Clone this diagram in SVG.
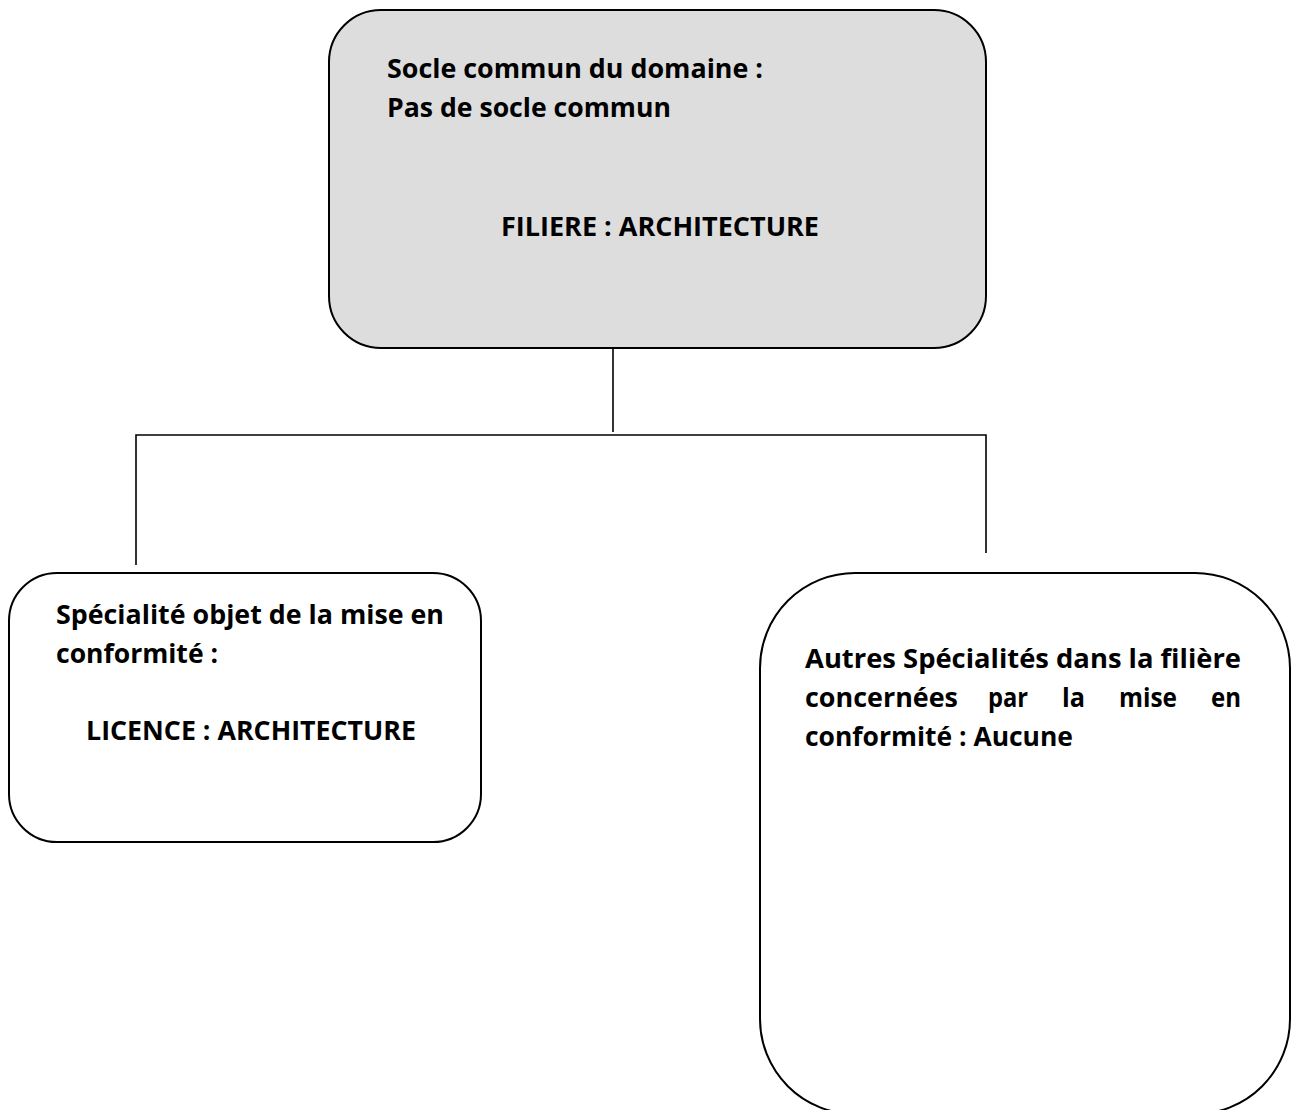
<svg xmlns="http://www.w3.org/2000/svg" width="1293" height="1110" viewBox="0 0 1293 1110">
<style>
.box{stroke:#000;stroke-width:2;}
.t{font-family:"Open Sans",Lato,"Liberation Sans",sans-serif;font-weight:bold;font-size:27.5px;fill:#000;}
.c{stroke:#000;stroke-width:1.6;fill:none;}
</style>
<rect width="1293" height="1110" fill="#fff"/>
<g id="connectors">
<line class="c" x1="613" y1="348" x2="613" y2="432"/>
<polyline class="c" points="136,565 136,435 986,435 986,553"/>
</g>
<g id="node-filiere">
<rect class="box" x="329" y="10" width="657" height="338" rx="52" ry="52" fill="#dddddd"/>
<text class="t" x="387" y="78" textLength="376" lengthAdjust="spacingAndGlyphs">Socle commun du domaine :</text>
<text class="t" x="387" y="117" textLength="284" lengthAdjust="spacingAndGlyphs">Pas de socle commun</text>
<text class="t" x="501" y="236" textLength="318" lengthAdjust="spacingAndGlyphs">FILIERE : ARCHITECTURE</text>
</g>
<g id="node-licence">
<rect class="box" x="9" y="573" width="472" height="269" rx="48" ry="48" fill="#fff"/>
<text class="t" x="56" y="624" textLength="388" lengthAdjust="spacingAndGlyphs">Spécialité objet de la mise en</text>
<text class="t" x="56" y="663" textLength="162" lengthAdjust="spacingAndGlyphs">conformité :</text>
<text class="t" x="86" y="740" textLength="330" lengthAdjust="spacingAndGlyphs">LICENCE : ARCHITECTURE</text>
</g>
<g id="node-autres">
<rect class="box" x="760" y="573" width="530" height="541" rx="95" ry="95" fill="#fff"/>
<text class="t" x="805" y="668" textLength="436" lengthAdjust="spacingAndGlyphs">Autres Spécialités dans la filière</text>
<text class="t" x="805" y="707" textLength="153" lengthAdjust="spacingAndGlyphs">concernées</text>
<text class="t" x="988" y="707" textLength="40" lengthAdjust="spacingAndGlyphs">par</text>
<text class="t" x="1062" y="707" textLength="23" lengthAdjust="spacingAndGlyphs">la</text>
<text class="t" x="1119" y="707" textLength="58" lengthAdjust="spacingAndGlyphs">mise</text>
<text class="t" x="1211" y="707" textLength="30" lengthAdjust="spacingAndGlyphs">en</text>
<text class="t" x="805" y="746" textLength="268" lengthAdjust="spacingAndGlyphs">conformité : Aucune</text>
</g>
</svg>
